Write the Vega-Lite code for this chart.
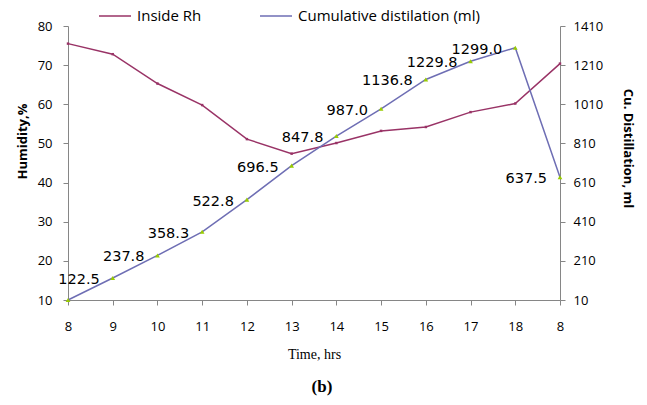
{
  "$schema": "https://vega.github.io/schema/vega-lite/v6.json",
  "width": 492,
  "height": 274,
  "autosize": {"type": "none"},
  "padding": {"left": 68, "top": 26, "right": 87, "bottom": 105},
  "background": "white",
  "config": {
    "view": {"stroke": null},
    "axis": {
      "grid": false,
      "domainColor": "#868686",
      "tickColor": "#868686",
      "labelFont": "Open Sans",
      "labelFontSize": 13,
      "labelColor": "#000000",
      "titleColor": "#000000",
      "labelOverlap": false,
      "labelFlush": false
    }
  },
  "title": {
    "text": "(b)",
    "orient": "bottom",
    "font": "Liberation Serif",
    "fontSize": 17,
    "fontWeight": "bold",
    "color": "#000000",
    "offset": 18,
    "dx": 8
  },
  "data": {
    "values": [
      {"idx": 0, "hour": 8, "rh": 75.5, "dist": 10},
      {"idx": 1, "hour": 9, "rh": 72.8, "dist": 122.5},
      {"idx": 2, "hour": 10, "rh": 65.3, "dist": 237.8},
      {"idx": 3, "hour": 11, "rh": 59.8, "dist": 358.3},
      {"idx": 4, "hour": 12, "rh": 51.1, "dist": 522.8},
      {"idx": 5, "hour": 13, "rh": 47.4, "dist": 696.5},
      {"idx": 6, "hour": 14, "rh": 50.1, "dist": 847.8},
      {"idx": 7, "hour": 15, "rh": 53.2, "dist": 987.0},
      {"idx": 8, "hour": 16, "rh": 54.2, "dist": 1136.8},
      {"idx": 9, "hour": 17, "rh": 58.0, "dist": 1229.8},
      {"idx": 10, "hour": 18, "rh": 60.2, "dist": 1299.0},
      {"idx": 11, "hour": 8, "rh": 70.4, "dist": 637.5}
    ]
  },
  "encoding": {
    "x": {
      "field": "idx",
      "type": "ordinal",
      "scale": {"type": "point", "padding": 0},
      "axis": {
        "title": "Time, hrs",
        "titleFont": "Liberation Serif",
        "titleFontWeight": "normal",
        "titleFontSize": 14,
        "labelExpr": "datum.value == 11 ? '8' : '' + (datum.value + 8)",
        "labelAngle": 0,
        "tickSize": 5,
        "labelPadding": 15,
        "titlePadding": 14
      }
    }
  },
  "layer": [
    {
      "mark": {"type": "line", "strokeWidth": 1.5, "point": {"shape": "square", "size": 6, "filled": true}},
      "encoding": {
        "y": {
          "field": "rh",
          "type": "quantitative",
          "scale": {"domain": [10, 80], "nice": false, "zero": false},
          "axis": {
            "orient": "left",
            "values": [10, 20, 30, 40, 50, 60, 70, 80],
            "title": "Humidity,%",
            "titleFont": "Open Sans",
            "titleFontWeight": "bold",
            "titleFontSize": 13,
            "titleY": 115,
            "tickSize": 5,
            "labelPadding": 11,
            "titlePadding": 8
          }
        },
        "color": {
          "datum": "Inside Rh",
          "type": "nominal",
          "scale": {"domain": ["Inside Rh", "Cumulative distilation (ml)"], "range": ["#993366", "#6E6EB4"]},
          "legend": {
            "title": null,
            "orient": "none",
            "direction": "horizontal",
            "legendX": 30,
            "legendY": -27,
            "symbolType": "stroke",
            "symbolSize": 1024,
            "symbolStrokeWidth": 1.5,
            "labelFont": "Open Sans",
            "labelFontSize": 15,
            "labelColor": "#000000",
            "labelOffset": 5,
            "labelLimit": 400,
            "columnPadding": 55
          }
        }
      }
    },
    {
      "encoding": {
        "y": {
          "field": "dist",
          "type": "quantitative",
          "scale": {"domain": [10, 1410], "nice": false, "zero": false},
          "axis": {
            "orient": "right",
            "values": [10, 210, 410, 610, 810, 1010, 1210, 1410],
            "format": "d",
            "title": "Cu. Distillation, ml",
            "titleFont": "Open Sans",
            "titleFontWeight": "bold",
            "titleFontSize": 13,
            "titleY": 122,
            "tickSize": 5,
            "labelPadding": 8,
            "titlePadding": 18
          }
        }
      },
      "layer": [
        {
          "mark": {"type": "line", "strokeWidth": 1.5},
          "encoding": {
            "color": {"datum": "Cumulative distilation (ml)", "type": "nominal"}
          }
        },
        {
          "mark": {"type": "point", "shape": "triangle-up", "size": 22, "filled": true, "color": "#99CC00", "opacity": 1}
        },
        {
          "transform": [{"filter": "datum.idx > 0"}],
          "mark": {"type": "text", "align": "right", "baseline": "middle", "dx": -13, "dy": 2, "font": "DejaVu Sans", "fontSize": 14.5, "color": "#000000"},
          "encoding": {
            "text": {"field": "dist", "type": "quantitative", "format": ".1f"}
          }
        }
      ]
    }
  ],
  "resolve": {"scale": {"y": "independent"}}
}
